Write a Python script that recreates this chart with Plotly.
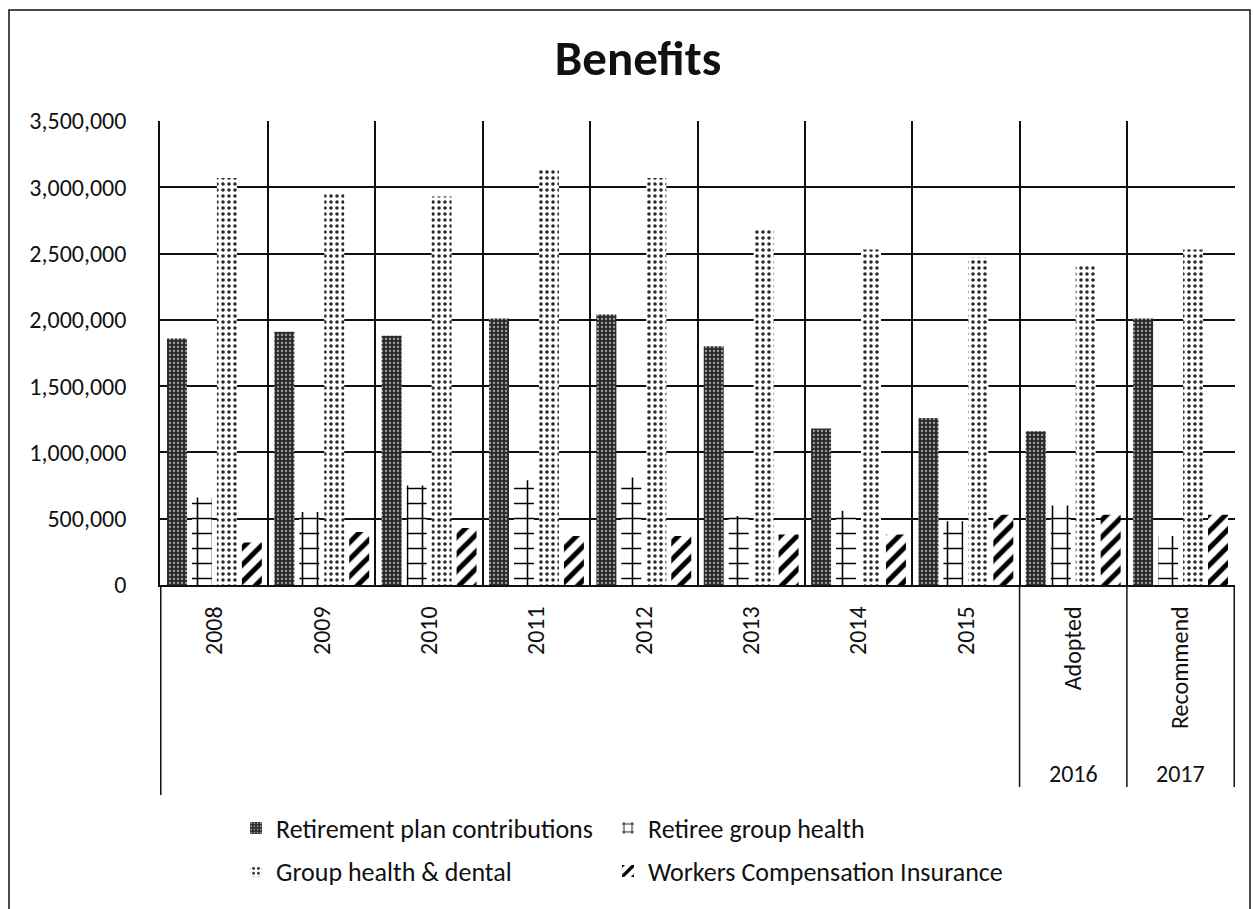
import plotly.graph_objects as go

# Budget years (inner labels) and their outer group labels
categories = ["2008", "2009", "2010", "2011", "2012", "2013", "2014", "2015", "Adopted", "Recommend"]
group_labels = {"Adopted": "2016", "Recommend": "2017"}

retirement_plan = [1860000, 1910000, 1880000, 2010000, 2040000, 1800000, 1180000, 1260000, 1160000, 2010000]
retiree_health = [660000, 550000, 750000, 790000, 810000, 520000, 560000, 480000, 600000, 370000]
group_health_dental = [3070000, 2960000, 2930000, 3130000, 3070000, 2680000, 2530000, 2470000, 2420000, 2530000]
workers_comp = [320000, 400000, 430000, 370000, 370000, 380000, 380000, 530000, 530000, 530000]

y_ticks = [0, 500000, 1000000, 1500000, 2000000, 2500000, 3000000, 3500000]

FONT = "Carlito, Calibri, Lato, sans-serif"
INK = "#111111"
TICK_SIZE = 24
LEGEND_SIZE = 26

fig = go.Figure()

fig.add_trace(go.Bar(
    name="Retirement plan contributions", x=categories, y=retirement_plan,
    marker=dict(color="#2f2f2f", line=dict(width=0),
                pattern=dict(shape=".", fgcolor="#a0a0a0", bgcolor="#2b2b2b", fgopacity=1,
                             size=4, solidity=0.25)),
    legend="legend",
))
fig.add_trace(go.Bar(
    name="Retiree group health", x=categories, y=retiree_health,
    marker=dict(color="white", line=dict(width=0),
                pattern=dict(shape="+", fgcolor="#000000", bgcolor="white", fgopacity=1,
                             size=15, solidity=0.2)),
    legend="legend3",
))
fig.add_trace(go.Bar(
    name="Group health & dental", x=categories, y=group_health_dental,
    marker=dict(color="white", line=dict(width=0),
                pattern=dict(shape=".", fgcolor="#2a2a2a", bgcolor="white", fgopacity=1,
                             size=6, solidity=0.28)),
    legend="legend2",
))
fig.add_trace(go.Bar(
    name="Workers Compensation Insurance", x=categories, y=workers_comp,
    marker=dict(color="white", line=dict(width=0),
                pattern=dict(shape="/", fgcolor="#000000", bgcolor="white", fgopacity=1,
                             size=12, solidity=0.42)),
    legend="legend4",
))

# Divider lines in the category label area and outer group labels
plot_h = 909 - 121 - 324
shapes = []
for xb, depth in [(-0.5, 210), (7.5, 202), (8.5, 202), (9.5, 202)]:
    shapes.append(dict(type="line", xref="x", yref="paper", x0=xb, x1=xb,
                       y0=0, y1=-depth / plot_h, line=dict(color=INK, width=1.5)))
# outer frame of the chart
shapes.append(dict(type="rect", xref="paper", yref="paper",
                   x0=(9 - 160) / 1075, x1=(1250 - 160) / 1075,
                   y0=-(930 - 585) / plot_h, y1=(585 - 10) / plot_h,
                   line=dict(color=INK, width=1.5)))

annotations = []
for i, cat in enumerate(categories):
    if cat in group_labels:
        annotations.append(dict(x=i, xref="x", y=-(773 - 585) / plot_h, yref="paper",
                                xanchor="center", yanchor="middle",
                                text=group_labels[cat], showarrow=False,
                                font=dict(family=FONT, size=TICK_SIZE, color=INK)))

# Legend: two columns x two rows, one legend box per entry
legend_common = dict(orientation="h", xanchor="left", yanchor="middle", itemwidth=30,
                     font=dict(family=FONT, size=LEGEND_SIZE, color=INK))
col1_x = (236 - 160) / 1075
col2_x = (608 - 160) / 1075
row1_y = -(828 - 585) / plot_h
row2_y = -(871 - 585) / plot_h

fig.update_layout(
    width=1254, height=909,
    margin=dict(l=160, r=19, t=121, b=324),
    paper_bgcolor="white", plot_bgcolor="white",
    title=dict(text="<b>Benefits</b>", x=638 / 1254, xanchor="center", y=(909 - 58) / 909, yanchor="middle",
               font=dict(family=FONT, size=49, color=INK)),
    barmode="group", bargap=0.07, bargroupgap=0.2,
    font=dict(family=FONT, size=TICK_SIZE, color=INK),
    showlegend=True,
    legend=dict(legend_common, x=col1_x, y=row1_y),
    legend3=dict(legend_common, x=col2_x, y=row1_y),
    legend2=dict(legend_common, x=col1_x, y=row2_y),
    legend4=dict(legend_common, x=col2_x, y=row2_y),
    shapes=shapes,
    annotations=annotations,
)

fig.update_xaxes(
    type="category", tickson="boundaries", showgrid=True, gridcolor=INK, gridwidth=1.5,
    tickangle=-90, ticks="", showline=True, linecolor=INK, linewidth=1.5,
    ticklabelstandoff=10, tickfont=dict(family=FONT, size=TICK_SIZE, color=INK),
)
fig.update_yaxes(
    range=[0, 3500000], tickvals=y_ticks, tickformat=",", showgrid=True, gridcolor=INK, gridwidth=1.5,
    zeroline=False, showline=True, linecolor=INK, linewidth=1.5, ticks="",
    ticklabelstandoff=27, tickfont=dict(family=FONT, size=TICK_SIZE, color=INK),
)

fig.write_html("out.html")
